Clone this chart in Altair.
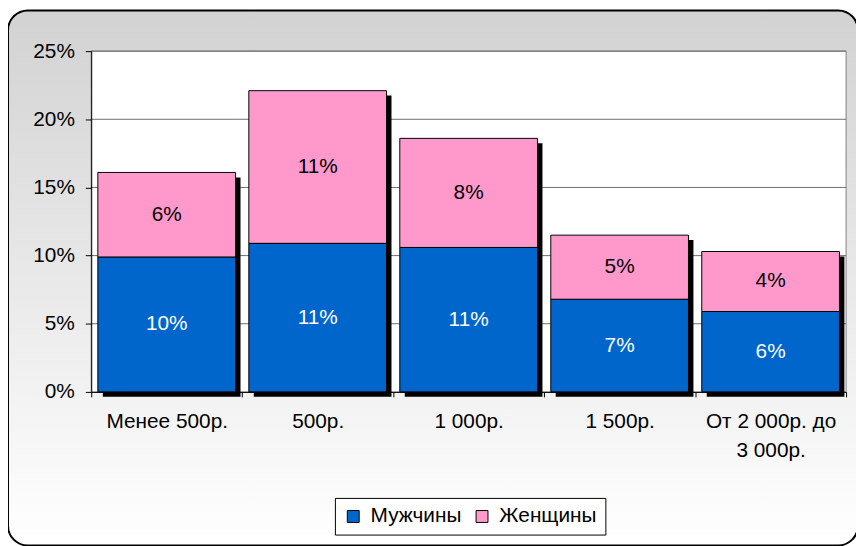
import altair as alt
import pandas as pd

categories = ["Менее 500р.", "500р.", "1 000р.", "1 500р.", "От 2 000р. до\n3 000р."]
men = [9.9, 10.9, 10.6, 6.8, 5.9]
women = [6.2, 11.2, 8.0, 4.7, 4.4]
series = ["Мужчины", "Женщины"]
colors = ["#0066CC", "#FF99CC"]
y_ticks = [0, 5, 10, 15, 20, 25]

rows = []
for i, c in enumerate(categories):
    rows.append({"cat": c, "sex": series[0], "ord": 0, "value": men[i]})
    rows.append({"cat": c, "sex": series[1], "ord": 1, "value": women[i]})
df = pd.DataFrame(rows)

W, H = 762, 344
FONT = "Liberation Sans"
xscale = alt.Scale(domain=categories, paddingInner=0, paddingOuter=0)
yscale = alt.Scale(domain=[0, 25], nice=False, zero=True)
BAND = 0.912

xaxis = alt.Axis(
    tickBand="extent", tickSize=5, labelAngle=0, labelExpr="split(datum.label, '\\n')",
    labelFontSize=21, labelPadding=14, labelLineHeight=29, labelColor="black",
    domainColor="black", tickColor="black", title=None, zindex=1, grid=False, labelFont=FONT,
)
yaxis = alt.Axis(
    values=y_ticks, labelExpr="datum.value + '%'", grid=False, tickSize=6, tickColor="black",
    domainColor="black", labelFontSize=21, labelColor="black", labelPadding=11, title=None,
    zindex=1, labelFont=FONT,
)

one = pd.DataFrame({"k": [0]})
gradient = {
    "gradient": "linear", "x1": 0, "y1": 0, "x2": 0, "y2": 1,
    "stops": [{"offset": 0, "color": "#d2d2d2"}, {"offset": 1, "color": "#ffffff"}],
}
bg = alt.Chart(one).mark_rect(fill=gradient, stroke="black", strokeWidth=2, cornerRadius=20).encode(
    x=alt.value(-84), x2=alt.value(774), y=alt.value(-41), y2=alt.value(499)
)
plotrect = alt.Chart(one).mark_rect(fill="white", stroke="#808080", strokeWidth=1).encode(
    x=alt.value(0), x2=alt.value(W), y=alt.value(0), y2=alt.value(H)
)
grid = alt.Chart(pd.DataFrame({"g": y_ticks[1:]})).mark_rule(color="#6e6e6e", strokeWidth=1).encode(
    y=alt.Y("g:Q", scale=yscale, axis=yaxis), x=alt.value(0), x2=alt.value(W)
)
shadow = alt.Chart(df).transform_aggregate(
    total="sum(value)", groupby=["cat"]
).mark_bar(color="black", width={"band": BAND}, xOffset=5, yOffset=5, y2Offset=0.01).encode(
    x=alt.X("cat:N", scale=xscale, axis=xaxis),
    y=alt.Y("total:Q", scale=yscale, axis=yaxis),
)

bars = alt.Chart(df).mark_bar(width={"band": BAND}, stroke="black", strokeWidth=1).encode(
    x=alt.X("cat:N", scale=xscale, axis=xaxis),
    y=alt.Y("value:Q", scale=yscale, axis=yaxis, stack="zero"),
    color=alt.Color(
        "sex:N",
        scale=alt.Scale(domain=series, range=colors),
        legend=alt.Legend(
            title=None, orient="none", legendX=246, legendY=451, direction="horizontal",
            symbolType="square", symbolSize=144, symbolStrokeColor="black", symbolStrokeWidth=1,
            symbolOpacity=1, labelFontSize=21, labelColor="black", labelFont=FONT,
            fillColor="white", strokeColor="black", padding=8, columnPadding=10,
            labelOffset=7, zindex=1,
        ),
    ),
    order=alt.Order("ord:Q", sort="ascending"),
)
labels = alt.Chart(df).transform_stack(
    stack="value", groupby=["cat"], as_=["v0", "v1"], sort=[alt.SortField("ord", order="ascending")]
).transform_calculate(
    mid="(datum.v0 + datum.v1) / 2", lbl="format(datum.value, '.0f') + '%'"
).mark_text(fontSize=21, font=FONT, baseline="middle").encode(
    x=alt.X("cat:N", scale=xscale, axis=xaxis),
    y=alt.Y("mid:Q", scale=yscale, axis=yaxis),
    text="lbl:N",
    color=alt.condition(alt.datum.sex == "Мужчины", alt.value("white"), alt.value("black")),
)

chart = alt.layer(bg, plotrect, grid, shadow, bars, labels).properties(
    width=W, height=H,
    padding={"left": 84, "top": 41, "right": 10, "bottom": 153},
    autosize=alt.AutoSizeParams(type="none"),
).configure(font=FONT).configure_view(stroke=None)

chart.save("out.html", embed_options={"renderer": "svg", "actions": False})
